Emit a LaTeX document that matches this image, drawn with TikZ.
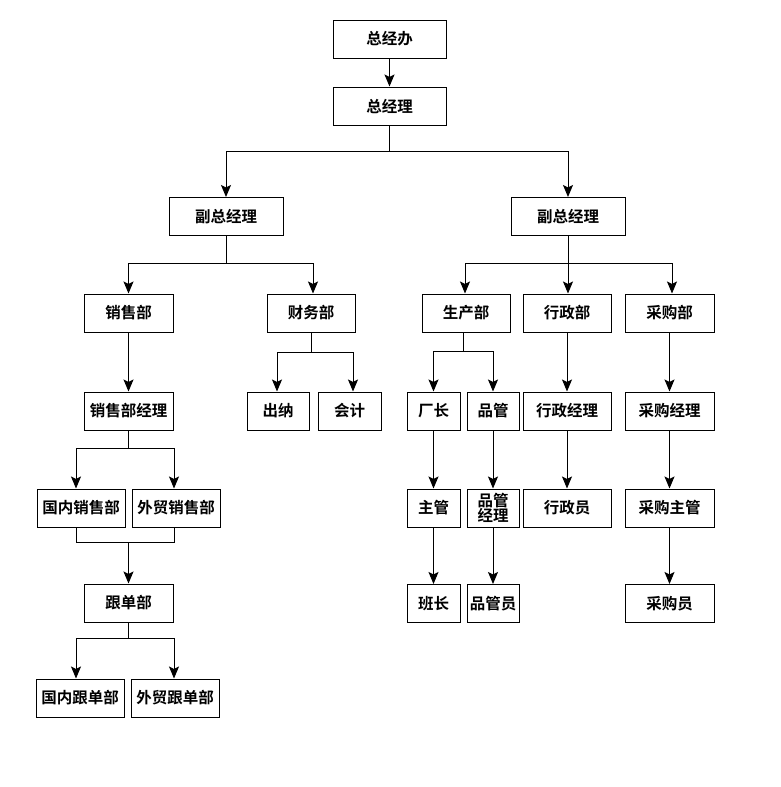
\documentclass[tikz,border=0pt]{standalone}
\usepackage{fontspec}
\setmainfont{Noto Sans CJK SC}[BoldFont={Noto Sans CJK SC Bold}]
\usetikzlibrary{arrows.meta,calc}
\begin{document}
\begin{tikzpicture}[x=1pt,y=-1pt,
  box/.style={draw,line width=1pt,minimum height=38pt,inner sep=0pt,
    font=\fontsize{15.5}{16.5}\selectfont\bfseries,align=center},
  ln/.style={line width=1pt},
  arr/.style={line width=1pt,-{Stealth[length=12pt,width=10pt,inset=2.5pt]}}]
\useasboundingbox[fill=white] (0,0) rectangle (780,787);
% row 0/1
\node[box,minimum width=113pt] (zjb) at (389.5,39) {总经办};
\node[box,minimum width=113pt] (zjl) at (389.5,106) {总经理};
% row 2
\node[box,minimum width=114pt] (fzL) at (226,216.5) {副总经理};
\node[box,minimum width=114pt] (fzR) at (568,216.5) {副总经理};
% row 3
\node[box,minimum width=89pt] (xsb) at (128.5,313) {销售部};
\node[box,minimum width=88pt] (cwb) at (311,313) {财务部};
\node[box,minimum width=88pt] (scb) at (466,313) {生产部};
\node[box,minimum width=88pt] (xzb) at (567,313) {行政部};
\node[box,minimum width=89pt] (cgb) at (669.5,313) {采购部};
% row 4
\node[box,minimum width=89pt] (xsbjl) at (128.5,411) {销售部经理};
\node[box,minimum width=62pt] (cn) at (278,411) {出纳};
\node[box,minimum width=63pt] (kj) at (349.5,411) {会计};
\node[box,minimum width=53pt] (cz) at (433.5,411) {厂长};
\node[box,minimum width=52pt] (pg) at (493,411) {品管};
\node[box,minimum width=88pt] (xzjl) at (567,411) {行政经理};
\node[box,minimum width=89pt] (cgjl) at (669.5,411) {采购经理};
% row 5
\node[box,minimum width=88pt] (gnxs) at (81,508) {国内销售部};
\node[box,minimum width=88pt] (wmxs) at (176,508) {外贸销售部};
\node[box,minimum width=53pt] (zg) at (433.5,508) {主管};
\node[box,minimum width=52pt] (pgjl) at (493,508) {品管\\[-1pt]经理};
\node[box,minimum width=88pt] (xzy) at (567,508) {行政员};
\node[box,minimum width=89pt] (cgzg) at (669.5,508) {采购主管};
% row 6
\node[box,minimum width=89pt] (gdb) at (128.5,603) {跟单部};
\node[box,minimum width=53pt] (bz) at (433.5,603.5) {班长};
\node[box,minimum width=52pt] (pgy) at (493,603.5) {品管员};
\node[box,minimum width=89pt] (cgy) at (669.5,603.5) {采购员};
% row 7
\node[box,minimum width=88pt] (gngd) at (80,698) {国内跟单部};
\node[box,minimum width=88pt] (wmgd) at (175,698) {外贸跟单部};

% connectors
\draw[arr] (zjb) -- (zjl);
\coordinate (s1) at ($(zjl.south)+(0,26)$);
\draw[ln] (zjl.south) -- (s1);
\draw[arr] (s1) -| (fzL.north);
\draw[arr] (s1) -| (fzR.north);

\coordinate (s2) at ($(fzL.south)+(0,27)$);
\draw[ln] (fzL.south) -- (s2);
\draw[arr] (s2) -| (xsb.north);
\draw[arr] (s2) -| ([xshift=2pt]cwb.north);

\coordinate (s3) at ($(fzR.south)+(0,27)$);
\draw[arr] (fzR.south) -- (xzb.north -| fzR.south);
\draw[arr] (s3) -| ([xshift=-1pt]scb.north);
\draw[arr] (s3) -| ([xshift=2.5pt]cgb.north);

\draw[arr] (xsb) -- (xsbjl);
\coordinate (s4) at ($(cwb.south)+(0,20)$);
\draw[ln] (cwb.south) -- (s4);
\draw[arr] (s4) -| ([xshift=-1pt]cn.north);
\draw[arr] (s4) -| ([xshift=3.5pt]kj.north);

\coordinate (s5) at ($([xshift=-3pt]scb.south)+(0,19)$);
\draw[ln] ([xshift=-3pt]scb.south) -- (s5);
\draw[arr] (s5) -| (cz.north);
\draw[arr] (s5) -| (pg.north);

\draw[arr] (xzb) -- (xzjl);
\draw[arr] (xzjl) -- (xzy);
\draw[arr] (cgb) -- (cgjl);
\draw[arr] (cgjl) -- (cgzg);
\draw[arr] (cgzg) -- (cgy);
\draw[arr] (cz) -- (zg);
\draw[arr] (zg) -- (bz);
\draw[arr] (pg) -- (pgjl);
\draw[arr] (pgjl) -- (pgy);

\coordinate (s6) at ($(xsbjl.south)+(0,18)$);
\draw[ln] (xsbjl.south) -- (s6);
\draw[arr] (s6) -| ([xshift=-5pt]gnxs.north);
\draw[arr] (s6) -| ([xshift=-2pt]wmxs.north);

\coordinate (m1) at ($(xsbjl.south)+(0,112)$);
\draw[ln] ([xshift=-5pt]gnxs.south) |- (m1) -| ([xshift=-2pt]wmxs.south);
\draw[arr] (m1) -- (gdb.north);

\coordinate (s7) at ($(gdb.south)+(0,16)$);
\draw[ln] (gdb.south) -- (s7);
\draw[arr] (s7) -| ([xshift=-4pt]gngd.north);
\draw[arr] (s7) -| ([xshift=-1pt]wmgd.north);
\end{tikzpicture}
\end{document}
